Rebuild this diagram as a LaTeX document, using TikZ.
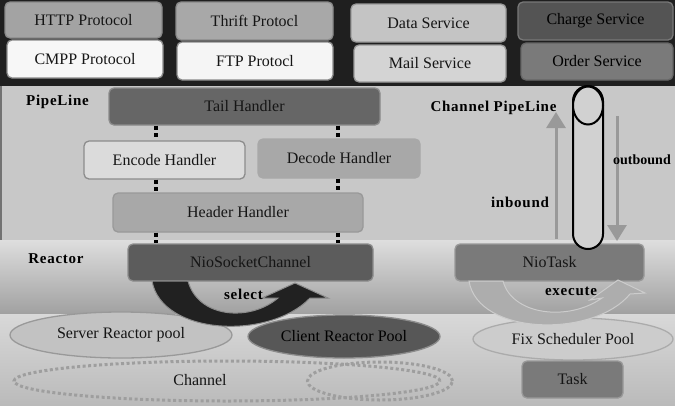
\documentclass[tikz,border=0pt]{standalone}
\usepackage{fontspec}
\setmainfont{Liberation Serif}
\newfontfamily\labfont[LetterSpace=5]{Liberation Serif}
\usetikzlibrary{arrows.meta,calc,shapes.geometric}
\definecolor{bandDark}{HTML}{1F1F1F}
\definecolor{bandMid}{HTML}{C8C8C8}
\definecolor{txt}{HTML}{151515}
\begin{document}
\begin{tikzpicture}[x=1pt,y=-1pt,
  every node/.style={font=\fontsize{16}{19}\selectfont, text=txt},
  gbox/.style={rectangle, rounded corners=5pt, line width=1.3pt, inner sep=0pt},
  gell/.style={ellipse, line width=1.3pt, inner sep=0pt},
  lab/.style={font=\labfont\fontsize{15}{18}\selectfont\bfseries, text=black},
  dashline/.style={line width=3.5pt, dash pattern=on 4pt off 3.5pt, black},
  dotline/.style={draw=black!38, line width=3pt, dash pattern=on 3pt off 2.5pt},
  flowarrow/.style={draw=black!40, line width=3pt, -{Triangle[width=19pt,length=16pt]}}
]
\useasboundingbox (0,0) rectangle (675,405);
\clip (0,0) rectangle (675,405);
% backgrounds
\fill[bandDark] (0,0) rectangle (675,86);
\fill[bandMid] (0,86) rectangle (675,240);
\fill[black!55] (0,86) rectangle (2,240);
\shade[top color=black!13, bottom color=black!37] (0,240) rectangle (675,314);
\shade[top color=black!15, bottom color=black!27] (0,314) rectangle (675,405);

% top row
\node[gbox, fill=black!36, draw=black!46, minimum width=157pt, minimum height=36pt] (http) at (83.5,20) {HTTP Protocol};
\node[gbox, fill=black!3, draw=black!46, minimum width=156pt, minimum height=38pt] (cmpp) at (85,59) {CMPP Protocol};
\node[gbox, fill=black!34, draw=black!46, minimum width=157pt, minimum height=38pt] (thrift) at (254.5,21) {Thrift Protocl};
\node[gbox, fill=black!4, draw=black!46, minimum width=156pt, minimum height=38pt] (ftp) at (255,61) {FTP Protocl};
\node[gbox, fill=black!23, draw=black!40, minimum width=155pt, minimum height=38pt] (data) at (428.5,23) {Data Service};
\node[gbox, fill=black!17, draw=black!40, minimum width=152pt, minimum height=37pt] (mail) at (430,63.5) {Mail Service};
\node[gbox, fill=black!67, draw=black!53, minimum width=155pt, minimum height=38pt, text=black] (charge) at (595.5,21) {Charge Service};
\node[gbox, fill=black!52, draw=black!60, minimum width=152pt, minimum height=37pt, text=black] (order) at (597,61.5) {Order Service};

% pipeline
\node[lab] (pl) at (57.5,102) {PipeLine};
\node[gbox, fill=black!60, draw=black!45, minimum width=271pt, minimum height=37pt] (tail) at (244.5,106.5) {Tail Handler};
\node[gbox, fill=black!14, draw=black!45, minimum width=161pt, minimum height=38pt] (enc) at (164.5,160) {Encode Handler};
\node[gbox, fill=black!34, draw=black!34, minimum width=162pt, minimum height=39pt] (dec) at (339,158.5) {Decode Handler};
\node[gbox, fill=black!34, draw=black!40, minimum width=250pt, minimum height=39pt] (hdr) at (238,212.5) {Header Handler};

% reactor
\node[lab] (re) at (56,259) {Reactor};
\node[gbox, fill=black!64, draw=black!45, minimum width=245pt, minimum height=37pt] (nio) at (250.5,262.5) {NioSocketChannel};
\node[gbox, fill=black!52, draw=black!40, minimum width=189pt, minimum height=37pt] (niotask) at (549.5,262.5) {NioTask};

% dotted connectors
\coordinate (lx) at (156,0);
\coordinate (rx) at (338,0);
\draw[dashline] (tail.south -| lx) -- (enc.north -| lx);
\draw[dashline] (enc.south -| lx) -- (hdr.north -| lx);
\draw[dashline] (hdr.south -| lx) -- (nio.north -| lx);
\draw[dashline] (tail.south -| rx) -- (dec.north -| rx);
\draw[dashline] (dec.south -| rx) -- (hdr.north -| rx);
\draw[dashline] (hdr.south -| rx) -- (nio.north -| rx);

% channel pipeline
\node[lab] (cpl) at (493.5,108) {Channel PipeLine};
\draw[fill=black!18, line width=2pt, rounded corners=15pt] (573,86) rectangle (603,249);
\draw[fill=black!18, line width=2pt] (588,105.5) ellipse [x radius=15, y radius=19];
\coordinate (inb) at (556,239);
\coordinate (inT) at (556,112);
\coordinate (outT) at (617,116);
\coordinate (outB) at (617,241);
\draw[flowarrow] (inb) -- (inT);
\draw[flowarrow] (outT) -- (outB);
\node[lab] (inl) at (520,202) {inbound};
\node[font=\fontsize{14}{17}\selectfont\bfseries, text=black, anchor=west, inner sep=0pt] (outl) at (613,160) {outbound};

% pools
\node[gell, fill=black!24, draw=black!40, minimum width=222pt, minimum height=46pt] (srv) at (121,335) {Server Reactor pool};
\node[gell, fill=black!66, draw=black!45, minimum width=192pt, minimum height=43pt, text=black] (cli) at (344,336.5) {Client Reactor Pool};
\node[gell, fill=black!20, draw=black!33, minimum width=200pt, minimum height=42pt] (fix) at (573,339) {Fix Scheduler Pool};
\node[gbox, fill=black!52, draw=black!40, minimum width=101pt, minimum height=37pt] (task) at (572.5,379.5) {Task};

% channel
\node[gell, dotline, minimum width=426pt, minimum height=40pt] (chan) at (227,381) {};
\node[gell, dotline, minimum width=145pt, minimum height=38pt] (chan2) at (380,381) {};
\node (chl) at (200,380) {Channel};

% select arrow
\draw[fill=black!87, draw=black!45, line width=1pt]
  (152,281) .. controls (162,336) and (270,340) .. (310,298) -- (328,298) -- (295,283) -- (262,298) -- (278,298)
  .. controls (250,322) and (198,318) .. (188,281) -- cycle;
\node[lab] (sel) at (243.5,294) {select};

% execute arrow
\draw[fill=black!32, draw=black!20, line width=1pt]
  (469,281) .. controls (478,336) and (594,338) .. (630,294) -- (645,293) -- (618,280) -- (590,300) -- (602,298)
  .. controls (568,322) and (512,315) .. (503,281) -- cycle;
\node[lab] (exe) at (571,291) {execute};
\end{tikzpicture}
\end{document}
